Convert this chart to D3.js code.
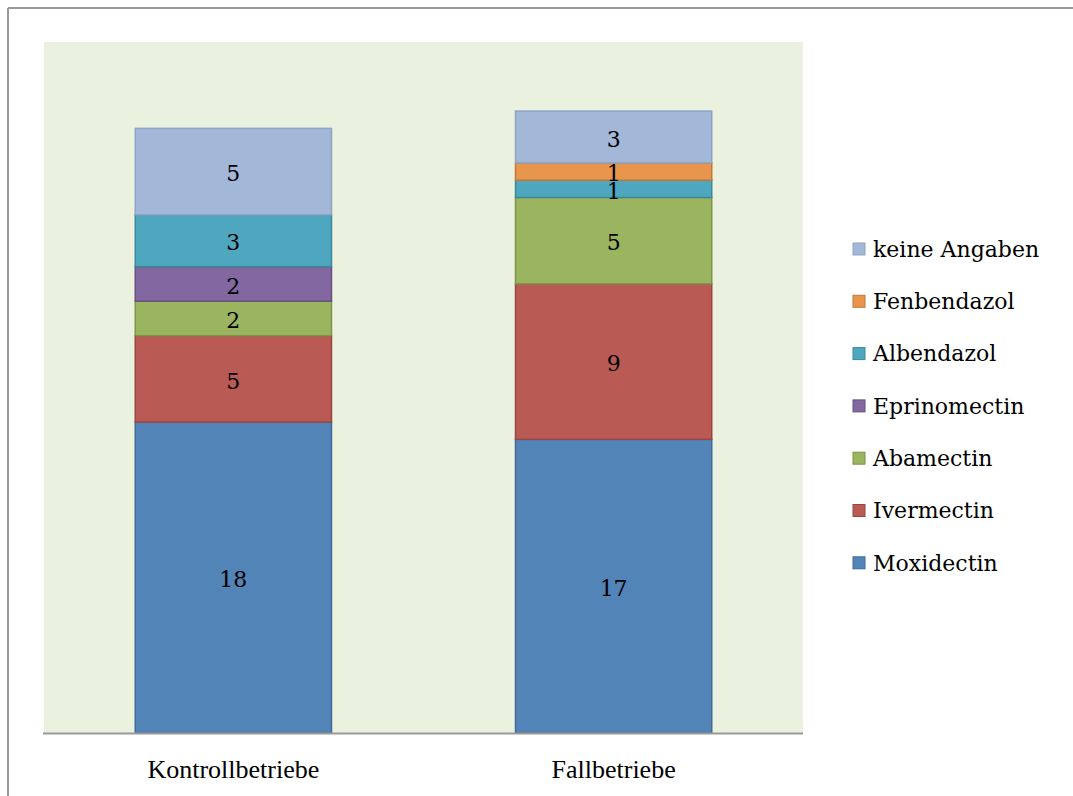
<!DOCTYPE html>
<html>
<head>
<meta charset="utf-8">
<script src="https://cdn.jsdelivr.net/npm/d3@7.9.0/dist/d3.min.js"></script>
<style>
  body { margin: 0; background: #fff; }
  svg { display: block; }
</style>
</head>
<body>
<div id="chart"></div>
<script>
// categories (x axis) and series, stacked bottom -> top
const categories = ["Kontrollbetriebe", "Fallbetriebe"];
const seriesNames = ["Moxidectin", "Ivermectin", "Abamectin", "Eprinomectin", "Albendazol", "Fenbendazol", "keine Angaben"];
const moxidectin   = [18, 17];
const ivermectin   = [5, 9];
const abamectin    = [2, 5];
const eprinomectin = [2, 0];
const albendazol   = [3, 1];
const fenbendazol  = [0, 1];
const keineAngaben = [5, 3];
const seriesColors = ["#5384B8", "#BA5A55", "#9BB460", "#8267A0", "#4EA7BE", "#E8964E", "#A3B7D9"];
const strokeColors = ["#3F6A9A", "#9A4541", "#7E9448", "#655083", "#3A8A9E", "#C47732", "#8FA3C4"];

const seriesValues = [moxidectin, ivermectin, abamectin, eprinomectin, albendazol, fenbendazol, keineAngaben];

const W = 1073, H = 796;
const plot = {left: 44, top: 42, right: 803, bottom: 733};

const svg = d3.select("#chart").append("svg")
    .attr("width", W)
    .attr("height", H);

// outer frame (top + left only visible)
svg.append("line").attr("x1", 8).attr("x2", W).attr("y1", 8).attr("y2", 8)
    .attr("stroke", "#999").attr("stroke-width", 2);
svg.append("line").attr("x1", 8).attr("x2", 8).attr("y1", 8).attr("y2", H)
    .attr("stroke", "#999").attr("stroke-width", 2);

// plot background
svg.append("rect")
    .attr("x", plot.left).attr("y", plot.top)
    .attr("width", plot.right - plot.left).attr("height", plot.bottom - plot.top)
    .attr("fill", "#EBF1DF");

const x = d3.scaleBand()
    .domain(categories)
    .range([plot.left, plot.right])
    .paddingInner(0.484)
    .paddingOuter(0.24);

const y = d3.scaleLinear()
    .domain([0, 40])
    .range([plot.bottom, plot.top]);

// build rows for d3.stack
const rows = categories.map((c, i) => {
    const r = {category: c};
    seriesNames.forEach((s, j) => r[s] = seriesValues[j][i]);
    return r;
});
const stacked = d3.stack().keys(seriesNames)(rows);

const layers = svg.selectAll(".layer")
    .data(stacked)
    .enter().append("g")
    .attr("class", "layer");

layers.selectAll("rect")
    .data((d, i) => d.filter(p => p[1] - p[0] > 0).map(p => ({p, i})))
    .enter().append("rect")
    .attr("x", d => x(d.p.data.category))
    .attr("y", d => y(d.p[1]))
    .attr("width", x.bandwidth())
    .attr("height", d => y(d.p[0]) - y(d.p[1]))
    .attr("fill", d => seriesColors[d.i])
    .attr("stroke", d => strokeColors[d.i])
    .attr("stroke-width", 1.5);

layers.selectAll("text")
    .data((d, i) => d.filter(p => p[1] - p[0] > 0))
    .enter().append("text")
    .attr("x", d => x(d.data.category) + x.bandwidth() / 2)
    .attr("y", d => (y(d[0]) + y(d[1])) / 2 + 2)
    .attr("dy", "0.35em")
    .attr("text-anchor", "middle")
    .attr("font-family", "DejaVu Serif, serif")
    .attr("font-size", 22)
    .attr("fill", "#000")
    .text(d => d[1] - d[0]);

// baseline
svg.append("line")
    .attr("x1", plot.left - 1).attr("x2", plot.right)
    .attr("y1", plot.bottom + 0.5).attr("y2", plot.bottom + 0.5)
    .attr("stroke", "#999").attr("stroke-width", 2);

// category labels
svg.selectAll(".cat")
    .data(categories)
    .enter().append("text")
    .attr("class", "cat")
    .attr("x", d => x(d) + x.bandwidth() / 2)
    .attr("y", 778)
    .attr("text-anchor", "middle")
    .attr("font-family", "Liberation Serif, serif")
    .attr("font-size", 26)
    .attr("fill", "#000")
    .text(d => d);

// legend, top -> bottom reversed order
const legendOrder = seriesNames.map((s, i) => i).reverse();
const legend = svg.selectAll(".leg")
    .data(legendOrder)
    .enter().append("g")
    .attr("class", "leg")
    .attr("transform", (d, k) => `translate(853, ${249 + k * 52.3})`);

legend.append("rect")
    .attr("x", 0).attr("y", -6)
    .attr("width", 12).attr("height", 12)
    .attr("fill", i => seriesColors[i])
    .attr("stroke", i => strokeColors[i])
    .attr("stroke-width", 1);

legend.append("text")
    .attr("x", 20)
    .attr("dy", "0.35em")
    .attr("font-family", "DejaVu Serif, serif")
    .attr("font-size", 22)
    .attr("fill", "#000")
    .text(i => seriesNames[i]);
</script>
</body>
</html>
